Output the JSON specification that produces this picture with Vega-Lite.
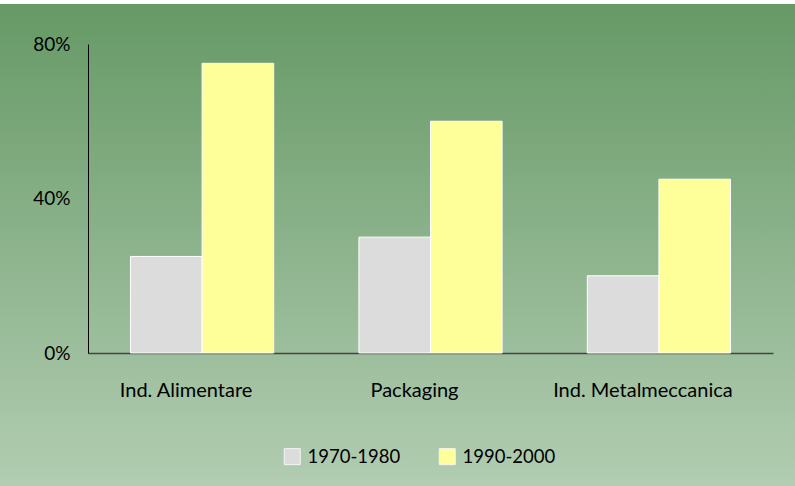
{
  "$schema": "https://vega.github.io/schema/vega-lite/v6.json",
  "width": 685,
  "height": 309,
  "autosize": {"type": "none"},
  "padding": {"left": 88, "top": 44, "right": 22, "bottom": 133},
  "background": "white",
  "view": {
    "fill": {"gradient": "linear", "x1": 0, "x2": 0, "y1": -0.1424, "y2": 1.43, "stops": [
      {"offset": 0, "color": "#ffffff"},
      {"offset": 0.0082, "color": "#ffffff"},
      {"offset": 0.0083, "color": "#669966"},
      {"offset": 1, "color": "#b2cdb2"}
    ]},
    "stroke": {"gradient": "linear", "x1": 0, "x2": 0, "y1": -0.1424, "y2": 1.43, "stops": [
      {"offset": 0, "color": "#ffffff"},
      {"offset": 0.0082, "color": "#ffffff"},
      {"offset": 0.0083, "color": "#669966"},
      {"offset": 1, "color": "#b2cdb2"}
    ]},
    "strokeWidth": 270
  },
  "data": {
    "values": [
      {"categoria": "Ind. Alimentare", "periodo": "1970-1980", "quota": 0.25},
      {"categoria": "Ind. Alimentare", "periodo": "1990-2000", "quota": 0.75},
      {"categoria": "Packaging", "periodo": "1970-1980", "quota": 0.30},
      {"categoria": "Packaging", "periodo": "1990-2000", "quota": 0.60},
      {"categoria": "Ind. Metalmeccanica", "periodo": "1970-1980", "quota": 0.20},
      {"categoria": "Ind. Metalmeccanica", "periodo": "1990-2000", "quota": 0.45}
    ]
  },
  "mark": {"type": "bar", "stroke": "#ffffff", "strokeWidth": 1},
  "encoding": {
    "x": {
      "field": "categoria",
      "type": "nominal",
      "sort": ["Ind. Alimentare", "Packaging", "Ind. Metalmeccanica"],
      "scale": {"paddingInner": 0.373, "paddingOuter": 0.186},
      "axis": {
        "title": null,
        "labelAngle": 0,
        "ticks": false,
        "domainColor": "#444444",
        "domainWidth": 1.5,
        "labelFont": "Lato",
        "labelFontSize": 20,
        "labelColor": "#000000",
        "labelPadding": 27,
        "labelOffset": -16
      }
    },
    "xOffset": {
      "field": "periodo",
      "type": "nominal",
      "sort": ["1970-1980", "1990-2000"],
      "scale": {"paddingInner": 0, "paddingOuter": 0}
    },
    "y": {
      "field": "quota",
      "type": "quantitative",
      "scale": {"domain": [0, 0.8], "nice": false},
      "axis": {
        "title": null,
        "values": [0, 0.4, 0.8],
        "format": ".0%",
        "grid": false,
        "ticks": false,
        "domainColor": "#000000",
        "domainWidth": 1,
        "labelFont": "Lato",
        "labelFontSize": 19,
        "labelColor": "#000000",
        "labelPadding": 18
      }
    },
    "color": {
      "field": "periodo",
      "type": "nominal",
      "sort": ["1970-1980", "1990-2000"],
      "scale": {"domain": ["1970-1980", "1990-2000"], "range": ["#dcdcdc", "#ffff99"]},
      "legend": {
        "title": null,
        "orient": "none",
        "direction": "horizontal",
        "legendX": 195,
        "legendY": 403,
        "symbolType": "square",
        "symbolSize": 256,
        "symbolStrokeColor": "#f4f4f4",
        "symbolStrokeWidth": 1,
        "symbolOpacity": 1,
        "labelFont": "Lato",
        "labelFontSize": 18.5,
        "labelColor": "#000000",
        "labelOffset": 6,
        "columnPadding": 36
      }
    }
  }
}
